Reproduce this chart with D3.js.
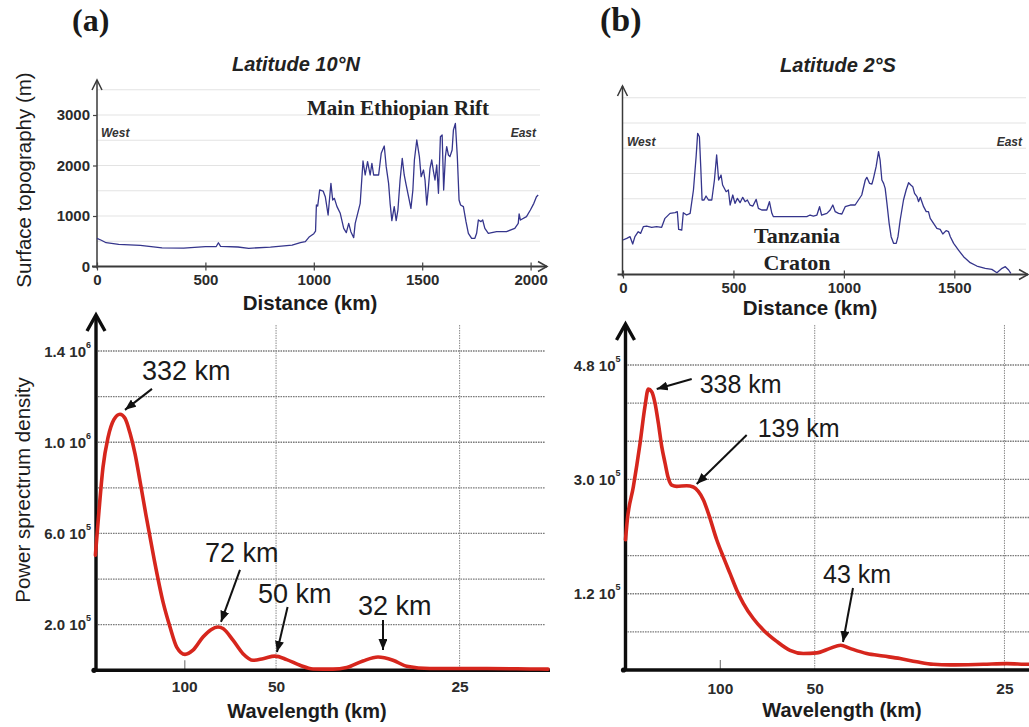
<!DOCTYPE html>
<html><head><meta charset="utf-8">
<script src="https://cdn.jsdelivr.net/npm/d3@7/dist/d3.min.js"></script>
<style>
html,body{margin:0;padding:0;background:#fff;}
svg{display:block;}
</style></head><body>
<svg id="chart" width="1029" height="727"></svg>
<script>
// ================= DATA =================
// (a) Surface topography profile, Latitude 10°N (distance km, elevation m)
const topoA_km = [0,20,42,100,200,300,400,500,550,560,570,650,700,800,900,938,961,980,1000,1008,1012,1018,1027,1043,1053,1066,1079,1087,1095,1107,1122,1138,1150,1161,1171,1184,1191,1214,1227,1237,1248,1260,1268,1276,1299,1311,1325,1334,1345,1352,1360,1371,1380,1388,1398,1408,1417,1426,1437,1448,1457,1464,1475,1487,1495,1506,1513,1521,1529,1536,1544,1552,1559,1567,1575,1584,1592,1599,1607,1613,1621,1628,1638,1644,1653,1662,1670,1677,1690,1702,1713,1728,1743,1751,1759,1771,1779,1789,1805,1843,1889,1927,1943,1947,1953,1981,1999,2015,2027,2035];
const topoA_m  = [558,520,471,440,420,370,365,392,395,471,400,386,360,385,425,472,492,590,650,700,1218,1198,1515,1495,1383,1020,1647,1317,1350,1185,1053,756,670,855,690,571,855,1251,2089,1812,2076,1812,2043,1812,1812,2241,2386,1977,1647,1251,908,1185,908,1119,1713,2142,1812,1614,1383,1152,1515,2109,2505,2175,1779,1911,1713,1218,1581,1944,2109,1878,1713,2010,1449,2571,2604,1515,2175,2373,2208,2175,2307,2703,2835,2175,1317,1218,1185,888,657,558,558,657,921,888,921,756,657,690,690,756,855,1040,921,987,1119,1251,1383,1416];

// (b) Surface topography profile, Latitude 2°S (distance km, elevation m)
const topoB_km = [0,17,32,44,54,69,80,92,107,130,152,175,190,213,236,246,252,266,273,288,304,319,331,338,346,352,358,367,376,387,402,414,424,433,444,451,467,477,485,497,507,518,530,542,553,563,575,588,603,613,628,651,663,674,681,742,832,847,862,878,890,899,923,938,950,961,976,991,1006,1029,1051,1066,1081,1097,1104,1116,1127,1134,1146,1157,1164,1172,1180,1187,1195,1205,1214,1225,1237,1245,1255,1270,1282,1293,1303,1312,1320,1331,1338,1346,1361,1373,1383,1391,1406,1421,1436,1448,1463,1474,1482,1497,1519,1542,1572,1602,1640,1670,1693,1716,1731,1746,1756];
const topoB_m  = [683,716,749,604,749,848,815,947,960,934,947,934,1112,1211,1224,1244,894,881,1224,1178,1211,1673,2333,2795,2729,2135,1475,1475,1554,1475,1475,1871,2366,1871,1970,1772,1640,1673,1376,1574,1409,1508,1422,1528,1442,1475,1376,1356,1488,1310,1277,1277,1442,1211,1145,1145,1145,1178,1158,1178,1343,1178,1211,1277,1376,1244,1211,1198,1343,1376,1376,1475,1574,1871,1924,1805,1792,1904,2135,2432,2267,1871,1805,1706,1409,1013,749,617,617,749,1079,1475,1673,1818,1772,1739,1607,1541,1442,1528,1343,1244,1244,1112,1013,914,894,802,868,848,749,617,485,353,234,168,122,102,36,122,155,89,23];

const topoA_xTicks = [0, 500, 1000, 1500, 2000];
const topoA_yTicks = [0, 1000, 2000, 3000];
const topoB_xTicks = [0, 500, 1000, 1500];
const topoGrid_m   = [500, 1000, 1500, 2000, 2500, 3000, 3500];

// Power spectrum density vs wavenumber (1/km); x axis labelled in wavelength (km)
const specA_k   = [0.000316,0.000708,0.001144,0.001689,0.002343,0.002996,0.003541,0.004086,0.004631,0.005175,0.005829,0.006701,0.007681,0.008444,0.009174,0.010078,0.010950,0.012040,0.012911,0.013674,0.014219,0.015308,0.016398,0.017487,0.018577,0.019884,0.021159,0.022608,0.024025,0.026204,0.027697,0.029473,0.031107,0.032741,0.034234,0.036773,0.042221,0.047668,0.049629];
const specA_psd = [505000,700000,890000,1020000,1100000,1123000,1105000,1040000,950000,830000,680000,490000,300000,190000,102000,70000,88000,146000,178000,190000,183000,132000,73000,44000,51000,62000,47000,22000,6000,5000,12000,41000,58000,44000,18000,8000,8000,6000,5000];

const specB_k   = [0.000053,0.000242,0.000875,0.001581,0.002108,0.002456,0.002815,0.003163,0.003510,0.003869,0.004217,0.004565,0.004923,0.005450,0.006504,0.007200,0.007727,0.008254,0.008781,0.009667,0.010363,0.011069,0.011775,0.012471,0.013525,0.014579,0.015992,0.017394,0.018796,0.020209,0.021611,0.022739,0.023719,0.025480,0.027230,0.028990,0.030751,0.032501,0.034261,0.037771,0.040238,0.042589,0.043221];
const specB_psd = [205000,236000,288000,356000,415000,442000,438000,420000,389000,352000,326000,302000,291000,289000,290000,288000,281000,268000,247000,205000,178000,152000,126000,105000,81000,63000,45000,31000,26000,27000,34000,39000,34000,26000,22000,18000,13000,9000,8000,9000,10000,9000,9000];

const specX_ticks_km = [100, 50, 25];
const specX_grid_km  = [50, 25];
const specA_yTicks = [1.4e6, 1.0e6, 6.0e5, 2.0e5];
const specA_grid   = [2e5, 4e5, 6e5, 8e5, 1.0e6, 1.2e6, 1.4e6];
const specB_yTicks = [4.8e5, 3.0e5, 1.2e5];
const specB_grid   = [0.6e5, 1.2e5, 1.8e5, 2.4e5, 3.0e5, 3.6e5, 4.2e5, 4.8e5];

// annotated peaks (label, wavenumber and PSD of the point the arrow touches)
const peakA_labels = ["332 km", "72 km", "50 km", "32 km"];
const peakA_k      = [0.00354, 0.0140, 0.0201, 0.03165];
const peakA_psd    = [1142000, 212000, 80000, 89000];
const peakB_labels = ["338 km", "139 km", "43 km"];
const peakB_k      = [0.003342, 0.007559, 0.02298];
const peakB_psd    = [442200, 292700, 44070];

// ================= LAYOUT / STYLE =================
const SANS  = "'Liberation Sans', Arial, Helvetica, sans-serif";
const SERIF = "'Liberation Serif', 'Times New Roman', Times, serif";
const svg = d3.select("#chart");
const defs = svg.append("defs");
defs.append("marker").attr("id", "ah")
  .attr("markerUnits", "userSpaceOnUse").attr("viewBox", "0 0 11 9")
  .attr("markerWidth", 11).attr("markerHeight", 9)
  .attr("refX", 11).attr("refY", 4.5).attr("orient", "auto")
  .append("path").attr("d", "M0,0L11,4.5L0,9Z").attr("fill", "#111");

function txt(g, x, y, s, o) {
  const t = g.append("text").attr("x", x).attr("y", y).text(s)
    .attr("font-family", o.family || SANS).attr("font-size", o.size)
    .attr("fill", o.fill || "#1c1c1c").attr("text-anchor", o.anchor || "start");
  if (o.weight) t.attr("font-weight", o.weight);
  if (o.style) t.attr("font-style", o.style);
  return t;
}

// ---------- topography panel ----------
function topoPanel(o) {
  const x = d3.scaleLinear().domain([0, o.xRef]).range(o.xRange);
  const y = d3.scaleLinear().domain([0, 3000]).range(o.yRange);
  const g = svg.append("g");
  const y0 = y(0);

  g.selectAll(null).data(topoGrid_m).join("line")
    .attr("x1", o.axisX).attr("x2", o.gridRight)
    .attr("y1", d => y(d)).attr("y2", d => y(d))
    .attr("stroke", "#e3e3e3").attr("stroke-width", 1);

  // axes lines + arrows
  g.append("line").attr("x1", o.axisX - 5).attr("x2", o.xArrow).attr("y1", y0).attr("y2", y0)
    .attr("stroke", "#3a3a3a").attr("stroke-width", 1.8);
  g.append("path").attr("d", `M${o.xArrow - 9},${y0 - 5}L${o.xArrow},${y0}L${o.xArrow - 9},${y0 + 5}`)
    .attr("fill", "none").attr("stroke", "#3a3a3a").attr("stroke-width", 1.5);
  g.append("line").attr("x1", o.axisX).attr("x2", o.axisX).attr("y1", y0 + 2).attr("y2", o.yArrow)
    .attr("stroke", "#3a3a3a").attr("stroke-width", 1.5);
  g.append("path").attr("d", `M${o.axisX - 5},${o.yArrow + 10}L${o.axisX},${o.yArrow}L${o.axisX + 5},${o.yArrow + 10}`)
    .attr("fill", "none").attr("stroke", "#3a3a3a").attr("stroke-width", 1.5);

  const xa = g.append("g").attr("transform", `translate(0,${y0})`)
    .call(d3.axisBottom(x).tickValues(o.xTicks).tickSize(4).tickFormat(d3.format("d")));
  xa.select(".domain").remove();
  xa.selectAll(".tick line").attr("y1", -4).attr("y2", 4).attr("stroke", "#444").attr("stroke-width", 1.2);
  xa.selectAll(".tick text").attr("y", 18).attr("dy", null)
    .attr("font-family", SANS).attr("font-size", 15).attr("font-weight", "bold").attr("fill", "#2b2b2b");

  if (o.yTicks) {
    const ya = g.append("g").attr("transform", `translate(${o.axisX},0)`)
      .call(d3.axisLeft(y).tickValues(o.yTicks).tickSize(4).tickFormat(d3.format("d")));
    ya.select(".domain").remove();
    ya.selectAll(".tick line").attr("stroke", "#444").attr("stroke-width", 1.2);
    ya.selectAll(".tick text").attr("x", -7).attr("dy", "0.32em")
      .attr("font-family", SANS).attr("font-size", 15).attr("font-weight", "bold").attr("fill", "#2b2b2b");
  }

  const pts = o.km.map((k, i) => [k, o.m[i]]);
  g.append("path").attr("d", d3.line().x(d => x(d[0])).y(d => y(d[1]))(pts))
    .attr("fill", "none").attr("stroke", "#35358c").attr("stroke-width", 1.3)
    .attr("stroke-linejoin", "round");
  return g;
}

// ---------- spectrum panel ----------
function fmtSci(v) {
  const e = Math.floor(Math.log10(v) + 1e-9);
  return [(v / Math.pow(10, e)).toFixed(1) + " 10", String(e)];
}
function specPanel(o) {
  const x = d3.scaleLinear().domain([0, 0.05]).range(o.xRange);
  const y = d3.scaleLinear().domain([0, o.yMax]).range([o.y0, o.yTop]);
  const g = svg.append("g");
  const y0 = y(0);

  g.selectAll(null).data(o.grid).join("line")
    .attr("x1", o.axisX + 2).attr("x2", o.gridRight)
    .attr("y1", d => y(d)).attr("y2", d => y(d))
    .attr("stroke", "#7c7c7c").attr("stroke-width", 1.3).attr("stroke-dasharray", "1.6,0.9");
  g.selectAll(null).data(specX_grid_km).join("line")
    .attr("x1", d => x(1 / d)).attr("x2", d => x(1 / d))
    .attr("y1", o.vGridTop).attr("y2", y0)
    .attr("stroke", "#8a8a8a").attr("stroke-width", 1).attr("stroke-dasharray", "1.5,1");

  const xa = g.append("g").attr("transform", `translate(0,${y0})`)
    .call(d3.axisBottom(x).tickValues(specX_ticks_km.map(d => 1 / d)).tickSize(0)
      .tickFormat(d => String(Math.round(1 / d))));
  xa.select(".domain").remove();
  xa.selectAll(".tick line").attr("y1", d => Math.round(1 / d) === 100 ? -10 : 0).attr("y2", 0)
    .attr("stroke", "#888").attr("stroke-width", 1.3);
  xa.selectAll(".tick text").attr("y", o.xLabelDy).attr("dy", null)
    .attr("font-family", SANS).attr("font-size", 15.5).attr("font-weight", "bold").attr("fill", "#2b2b2b");

  const ya = g.append("g").attr("transform", `translate(${o.axisX},0)`)
    .call(d3.axisLeft(y).tickValues(o.yTicks).tickSize(0));
  ya.select(".domain").remove();
  ya.selectAll(".tick text").attr("x", -5).attr("dy", 5)
    .attr("font-family", SANS).attr("font-size", 15).attr("font-weight", "bold").attr("fill", "#2b2b2b")
    .each(function (d) {
      const t = d3.select(this), p = fmtSci(d);
      t.text(null);
      t.append("tspan").text(p[0]);
      t.append("tspan").attr("dy", -9).attr("font-size", 9).text(p[1]);
    });

  // thick black axes
  g.append("line").attr("x1", o.axisX - 3).attr("x2", o.xEnd).attr("y1", y0).attr("y2", y0)
    .attr("stroke", "#0d0d0d").attr("stroke-width", 3.6);
  g.append("circle").attr("cx", o.axisX - 2).attr("cy", y0).attr("r", 2.6).attr("fill", "#0d0d0d");
  g.append("line").attr("x1", o.axisX).attr("x2", o.axisX).attr("y1", y0).attr("y2", o.yArrow + 2)
    .attr("stroke", "#0d0d0d").attr("stroke-width", 3.4);
  g.append("path").attr("d", `M${o.axisX - 9},${o.yArrow + 17}L${o.axisX},${o.yArrow + 1}L${o.axisX + 9},${o.yArrow + 17}`)
    .attr("fill", "none").attr("stroke", "#0d0d0d").attr("stroke-width", 3.4).attr("stroke-linejoin", "miter");

  const pts = o.k.map((k, i) => [k, o.psd[i]]);
  g.append("path").attr("d", d3.line().curve(d3.curveMonotoneX).x(d => x(d[0])).y(d => y(d[1]))(pts))
    .attr("fill", "none").attr("stroke", "#d6261d").attr("stroke-width", 3.6)
    .attr("stroke-linejoin", "round").attr("stroke-linecap", "round");

  o.labels.forEach((lab, i) => {
    const tx = x(o.pk[i]), ty = y(o.pp[i]), L = o.layout[i];
    g.append("line").attr("x1", tx + L[0]).attr("y1", ty + L[1]).attr("x2", tx).attr("y2", ty)
      .attr("stroke", "#111").attr("stroke-width", 2).attr("marker-end", "url(#ah)");
    txt(g, tx + L[2], ty + L[3], lab, { size: o.labelSize, fill: "#1a1a1a" });
  });
  return g;
}

// ================= DRAW =================
// panel letters and titles
txt(svg, 72, 31, "(a)", { family: SERIF, size: 32, weight: "bold", fill: "#1a1a1a" });
txt(svg, 600, 31, "(b)", { family: SERIF, size: 34, weight: "bold", fill: "#1a1a1a" });
txt(svg, 296, 71, "Latitude 10°N", { size: 20, weight: "bold", style: "italic", anchor: "middle", fill: "#222" });
txt(svg, 838, 72, "Latitude 2°S", { size: 20, weight: "bold", style: "italic", anchor: "middle", fill: "#222" });

topoPanel({ xRef: 2000, xRange: [97, 530.6], yRange: [266.5, 115], axisX: 97, gridRight: 540,
  xArrow: 547, yArrow: 80, km: topoA_km, m: topoA_m, xTicks: topoA_xTicks, yTicks: topoA_yTicks });
topoPanel({ xRef: 1500, xRange: [623, 954.3], yRange: [274.5, 123], axisX: 622.5, gridRight: 1026,
  xArrow: 1028, yArrow: 86, km: topoB_km, m: topoB_m, xTicks: topoB_xTicks, yTicks: null });

txt(svg, 101, 137, "West", { size: 12, weight: "bold", style: "italic", fill: "#333" });
txt(svg, 536, 137, "East", { size: 12, weight: "bold", style: "italic", fill: "#333", anchor: "end" });
txt(svg, 627, 146, "West", { size: 12, weight: "bold", style: "italic", fill: "#333" });
txt(svg, 1022, 146, "East", { size: 12, weight: "bold", style: "italic", fill: "#333", anchor: "end" });

txt(svg, 398, 115, "Main Ethiopian Rift", { family: SERIF, size: 21, weight: "bold", anchor: "middle", fill: "#222" });
txt(svg, 797, 243, "Tanzania", { family: SERIF, size: 22, weight: "bold", anchor: "middle", fill: "#222" });
txt(svg, 797, 270, "Craton", { family: SERIF, size: 22, weight: "bold", anchor: "middle", fill: "#222" });

txt(svg, 310, 310, "Distance (km)", { size: 20.5, weight: "bold", anchor: "middle", fill: "#1c1c1c" });
txt(svg, 810, 315, "Distance (km)", { size: 20.5, weight: "bold", anchor: "middle", fill: "#1c1c1c" });
svg.append("text").attr("transform", "translate(31,180) rotate(-90)").attr("text-anchor", "middle")
  .attr("font-family", SANS).attr("font-size", 20.5).attr("fill", "#1c1c1c").text("Surface topography (m)");

specPanel({ xRange: [92.5, 551.4], y0: 670.3, yTop: 351, yMax: 1.4e6, axisX: 96, gridRight: 545, xEnd: 550,
  vGridTop: 325, yArrow: 314, grid: specA_grid, yTicks: specA_yTicks, xLabelDy: 21.5,
  k: specA_k, psd: specA_psd, labels: peakA_labels, pk: peakA_k, pp: peakA_psd, labelSize: 27,
  layout: [[27, -21, 17, -30], [19, -52, -16, -60], [10.6, -45, -19, -49], [0, -30, -25, -35]] });
specPanel({ xRange: [625, 1099.3], y0: 670, yTop: 365, yMax: 4.8e5, axisX: 625.5, gridRight: 1029, xEnd: 1029,
  vGridTop: 325, yArrow: 323, grid: specB_grid, yTicks: specB_yTicks, xLabelDy: 24,
  k: specB_k, psd: specB_psd, labels: peakB_labels, pk: peakB_k, pp: peakB_psd, labelSize: 25,
  layout: [[35, -10, 43, 4], [50, -49, 61, -47], [10, -54, -20, -59]] });

txt(svg, 307, 718, "Wavelength (km)", { size: 20, weight: "bold", anchor: "middle", fill: "#1c1c1c" });
txt(svg, 842, 717, "Wavelength (km)", { size: 20, weight: "bold", anchor: "middle", fill: "#1c1c1c" });
svg.append("text").attr("transform", "translate(30,490) rotate(-90)").attr("text-anchor", "middle")
  .attr("font-family", SANS).attr("font-size", 20.5).attr("fill", "#1c1c1c").text("Power sprectrum density");
</script>
</body></html>
